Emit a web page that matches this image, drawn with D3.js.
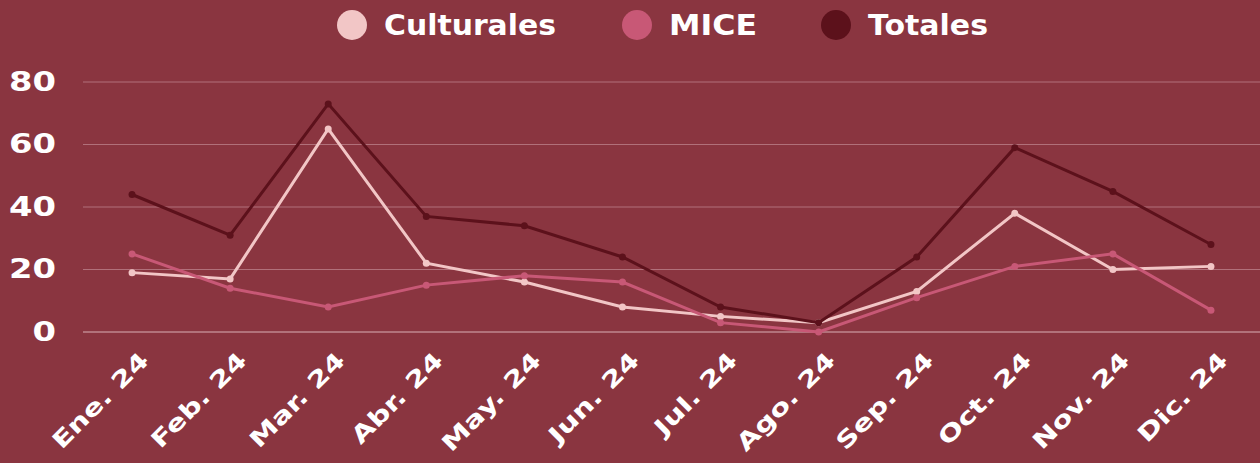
<!DOCTYPE html>
<html>
<head>
<meta charset="utf-8">
<script src="https://cdn.jsdelivr.net/npm/d3@7"></script>
<style>
  body { margin: 0; background: #8a3540; }
  text { font-family: "DejaVu Sans", sans-serif; font-weight: bold; fill: #ffffff; }
</style>
</head>
<body>
<div id="chart"></div>
<script>
// chart data
var months = ["Ene. 24", "Feb. 24", "Mar. 24", "Abr. 24", "May. 24", "Jun. 24",
              "Jul. 24", "Ago. 24", "Sep. 24", "Oct. 24", "Nov. 24", "Dic. 24"];
var culturales = [19, 17, 65, 22, 16, 8, 5, 3, 13, 38, 20, 21];
var mice = [25, 14, 8, 15, 18, 16, 3, 0, 11, 21, 25, 7];
var totales = [44, 31, 73, 37, 34, 24, 8, 3, 24, 59, 45, 28];
var seriesNames = ["Culturales", "MICE", "Totales"];
var yTicks = [0, 20, 40, 60, 80];

var svgWidth = 1260;
var svgHeight = 463;

var margin = { top: 82, right: 0, bottom: 131, left: 83 };
var width = svgWidth - margin.left - margin.right;
var height = svgHeight - margin.top - margin.bottom;

var colors = ["#f2c6c6", "#c85876", "#5c111b"];
var seriesData = [culturales, mice, totales];

var svg = d3.select("#chart")
    .append("svg")
    .attr("width", svgWidth)
    .attr("height", svgHeight);

var chartGroup = svg.append("g")
    .attr("transform", `translate(${margin.left}, ${margin.top})`);

// scales
var xScale = d3.scalePoint()
    .domain(months)
    .range([0, width])
    .padding(0.5);

var yScale = d3.scaleLinear()
    .domain([0, 80])
    .range([height, 0]);

// gridlines
chartGroup.append("g")
    .selectAll("line")
    .data(yTicks)
    .enter()
    .append("line")
    .attr("x1", 0)
    .attr("x2", width)
    .attr("y1", d => yScale(d))
    .attr("y2", d => yScale(d))
    .attr("stroke", d => d === 0 ? "#d9b0b5" : "#b1707a")
    .attr("stroke-width", 1);

// y axis labels (font stretched to look like the wide original face)
var leftAxis = d3.axisLeft(yScale).tickValues(yTicks).tickSize(0).tickPadding(0);
var yAxis = chartGroup.append("g").call(leftAxis);
yAxis.select(".domain").remove();
yAxis.selectAll("text")
    .style("font-size", "26px")
    .attr("dx", "0")
    .attr("x", 0)
    .attr("transform", "translate(-27, 0) scale(1.3,1)");

// x axis labels
var bottomAxis = d3.axisBottom(xScale).tickSize(0);
var xAxis = chartGroup.append("g")
    .attr("transform", `translate(0, ${height})`)
    .call(bottomAxis);
xAxis.select(".domain").remove();
xAxis.selectAll("text")
    .style("font-size", "23px")
    .style("text-anchor", "end")
    .attr("dy", "0.35em")
    .attr("y", 0)
    .attr("transform", "translate(12, 24) rotate(-45) scale(1.3,1)");

// lines and dots
var line = d3.line()
    .x((d, i) => xScale(months[i]))
    .y(d => yScale(d));

seriesData.forEach(function(values, s) {
    chartGroup.append("path")
        .datum(values)
        .attr("fill", "none")
        .attr("stroke", colors[s])
        .attr("stroke-width", 3)
        .attr("d", line);

    chartGroup.append("g")
        .selectAll("circle")
        .data(values)
        .enter()
        .append("circle")
        .attr("cx", (d, i) => xScale(months[i]))
        .attr("cy", d => yScale(d))
        .attr("r", 3.5)
        .attr("fill", colors[s]);
});

// legend
var legendX = [352, 637, 836];
var legendW = [172, 88, 120];
var legend = svg.append("g");
seriesNames.forEach(function(name, i) {
    legend.append("circle")
        .attr("cx", legendX[i])
        .attr("cy", 25)
        .attr("r", 15)
        .attr("fill", colors[i]);
    legend.append("text")
        .attr("x", legendX[i] + 32)
        .attr("y", 25)
        .attr("dy", "0.36em")
        .attr("textLength", legendW[i])
        .attr("lengthAdjust", "spacingAndGlyphs")
        .style("font-size", "29px")
        .text(name);
});
</script>
</body>
</html>
